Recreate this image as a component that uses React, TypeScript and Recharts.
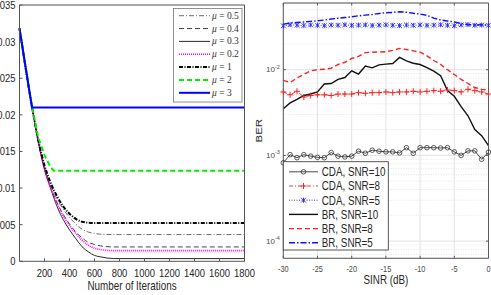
import { LineChart, Line, XAxis, YAxis, CartesianGrid, ReferenceLine } from 'recharts';

// left panel: cost vs iterations
const iters = [0, 100, 150, 200, 250, 300, 350, 400, 450, 500, 550, 600, 650, 700, 750, 800, 1800];
const mu05 = [0.0318, 0.0211, 0.0165, 0.0129, 0.0104, 0.0085, 0.0071, 0.006, 0.0051, 0.0044, 0.004, 0.0038, 0.0037, 0.00366, 0.00365, 0.00365, 0.00365];
const mu04 = [0.0318, 0.0211, 0.0164, 0.0127, 0.0101, 0.008, 0.0064, 0.0051, 0.004, 0.0032, 0.0026, 0.0023, 0.0021, 0.002, 0.00196, 0.00196, 0.00196];
const mu03 = [0.0318, 0.0211, 0.0163, 0.0125, 0.0099, 0.0075, 0.0057, 0.0043, 0.0031, 0.002, 0.0013, 0.0008, 0.0006, 0.00045, 0.00038, 0.00037, 0.00037];
const mu02 = [0.0318, 0.0211, 0.0164, 0.0126, 0.01, 0.0079, 0.0062, 0.0049, 0.0038, 0.0029, 0.0022, 0.0018, 0.0016, 0.0015, 0.00146, 0.00146, 0.00146];
const mu1 = [0.0318, 0.0211, 0.0166, 0.0131, 0.0107, 0.0089, 0.0075, 0.0065, 0.0058, 0.0054, 0.00527, 0.00523, 0.00523, 0.00523, 0.00523, 0.00523, 0.00523];
const itersMu2 = [0, 100, 150, 200, 250, 275, 1800];
const mu2 = [0.0318, 0.0211, 0.0169, 0.0145, 0.0128, 0.01238, 0.01238];
const itersMu3 = [0, 100, 1800];
const mu3 = [0.0318, 0.021, 0.021];

const iterTicks = [200, 400, 600, 800, 1000, 1200, 1400, 1600, 1800];
const costTicks = [0, 0.005, 0.01, 0.015, 0.02, 0.025, 0.03, 0.035];

// right panel: BER vs SINR
const sinr = [-30, -29, -28, -27, -26, -25, -24, -23, -22, -21, -20, -19, -18, -17, -16, -15, -14, -13, -12, -11, -10, -9, -8, -7, -6, -5, -4, -3, -2, -1, 0];
const cda10 = [0.00082, 0.00102, 0.00094, 0.00102, 0.00098, 0.00095, 0.00094, 0.00108, 0.00098, 0.00096, 0.00098, 0.00112, 0.00106, 0.00115, 0.00112, 0.0011, 0.0011, 0.00107, 0.00123, 0.00106, 0.00123, 0.00123, 0.00123, 0.00122, 0.00123, 0.0011, 0.001, 0.00113, 0.00113, 0.0009, 0.00109];
const cda8 = [0.0055, 0.0051, 0.0056, 0.0048, 0.005, 0.0051, 0.0051, 0.005, 0.0052, 0.0052, 0.0052, 0.0054, 0.0053, 0.0054, 0.0054, 0.0055, 0.0054, 0.0055, 0.0055, 0.0056, 0.0055, 0.0056, 0.0057, 0.0056, 0.0058, 0.0057, 0.0055, 0.0059, 0.0057, 0.0055, 0.0052];
const cda5 = [0.0325, 0.0335, 0.033, 0.0328, 0.0333, 0.033, 0.0327, 0.0332, 0.033, 0.0334, 0.0329, 0.0331, 0.0333, 0.0328, 0.0331, 0.0334, 0.033, 0.0327, 0.0332, 0.033, 0.0333, 0.0329, 0.0331, 0.0334, 0.033, 0.0326, 0.0333, 0.0336, 0.033, 0.0332, 0.033];
const br10 = [0.0035, 0.0041, 0.0045, 0.005, 0.0052, 0.0055, 0.0068, 0.0069, 0.0077, 0.0081, 0.0097, 0.0089, 0.011, 0.0105, 0.0114, 0.0116, 0.0118, 0.0139, 0.0127, 0.0119, 0.0115, 0.0106, 0.0096, 0.0085, 0.0057, 0.0049, 0.0037, 0.0029, 0.002, 0.0017, 0.0013];
const br8 = [0.0075, 0.0071, 0.008, 0.0088, 0.0097, 0.01, 0.0101, 0.0104, 0.0115, 0.0122, 0.0135, 0.0143, 0.0158, 0.016, 0.0161, 0.0162, 0.0168, 0.0177, 0.0172, 0.0166, 0.016, 0.0145, 0.0128, 0.0115, 0.01, 0.0088, 0.0077, 0.0069, 0.0062, 0.0059, 0.0058];
const br5 = [0.034, 0.035, 0.0355, 0.036, 0.0366, 0.0372, 0.038, 0.039, 0.0398, 0.0406, 0.0415, 0.0425, 0.0433, 0.044, 0.0452, 0.0462, 0.0466, 0.0474, 0.0468, 0.0455, 0.0446, 0.043, 0.04, 0.038, 0.037, 0.036, 0.0345, 0.0337, 0.0332, 0.0334, 0.0331];

const sinrTicks = [-30, -25, -20, -15, -10, -5, 0];
const berTicks = [1e-4, 1e-3, 1e-2];
const berMinor = [7e-5, 8e-5, 9e-5, 2e-4, 3e-4, 4e-4, 5e-4, 6e-4, 7e-4, 8e-4, 9e-4, 2e-3, 3e-3, 4e-3, 5e-3, 6e-3, 7e-3, 8e-3, 9e-3, 2e-2, 3e-2, 4e-2, 5e-2];

const SANS = "'Liberation Sans', Arial, Helvetica, sans-serif";
const SERIF = "'Liberation Serif', 'Times New Roman', serif";

const pairs = (xs: number[], ys: number[]) => xs.map((x, i) => ({ x, y: ys[i] }));

const costSeries = [
  { name: '0.5', data: pairs(iters, mu05), color: '#6a6a6a', width: 1, dash: '5 2 1 2', type: 'monotone' },
  { name: '0.4', data: pairs(iters, mu04), color: '#444', width: 1, dash: '5 3', type: 'monotone' },
  { name: '0.3', data: pairs(iters, mu03), color: '#111', width: 0.9, dash: undefined, type: 'monotone' },
  { name: '0.2', data: pairs(iters, mu02), color: '#ff00ff', width: 1.6, dash: '1 1', type: 'monotone' },
  { name: '1', data: pairs(iters, mu1), color: '#000', width: 2, dash: '4 1.5 1 1.5', type: 'monotone' },
  { name: '2', data: pairs(itersMu2, mu2), color: '#00ee00', width: 2, dash: '5 3', type: 'linear' },
  { name: '3', data: pairs(itersMu3, mu3), color: '#0000ff', width: 2, dash: undefined, type: 'linear' },
];

const berRows = sinr.map((s, i) => ({
  sinr: s, cda10: cda10[i], cda8: cda8[i], cda5: cda5[i], br10: br10[i], br8: br8[i], br5: br5[i],
}));

function STxt({ x, y, size, anchor = 'start', fill = '#262626', family = SANS, sx = 0.82, children }: any) {
  return (
    <text transform={`translate(${x},${y}) scale(${sx},1)`} textAnchor={anchor} fontSize={size} fontFamily={family} fill={fill}>
      {children}
    </text>
  );
}

// marker shapes
function Circle({ cx, cy, color }: any) {
  return <circle cx={cx} cy={cy} r={2.3} fill="none" stroke={color} strokeWidth={0.8} />;
}
function Plus({ cx, cy, color }: any) {
  return <path d={`M${cx - 3},${cy}H${cx + 3}M${cx},${cy - 3}V${cy + 3}`} stroke={color} strokeWidth={1} fill="none" />;
}
function Cross({ cx, cy, color }: any) {
  return <path d={`M${cx - 2.3},${cy - 2.3}L${cx + 2.3},${cy + 2.3}M${cx - 2.3},${cy + 2.3}L${cx + 2.3},${cy - 2.3}M${cx},${cy - 2.5}V${cy + 2.5}`} stroke={color} strokeWidth={0.9} fill="none" />;
}

const berSeries = [
  { key: 'cda10', label: 'CDA, SNR=10', color: '#333', width: 0.9, dash: undefined, marker: Circle },
  { key: 'cda8', label: 'CDA, SNR=8', color: '#ff2020', width: 0.9, dash: '4 2 1 2', marker: Plus },
  { key: 'cda5', label: 'CDA, SNR=5', color: '#2020ff', width: 0.9, dash: '1 1.5', marker: Cross },
  { key: 'br10', label: 'BR, SNR=10', color: '#111', width: 1.4, dash: undefined, marker: null },
  { key: 'br8', label: 'BR, SNR=8', color: '#ff2020', width: 1.4, dash: '5 3', marker: null },
  { key: 'br5', label: 'BR, SNR=5', color: '#1010ff', width: 1.4, dash: '6 2 1.5 2', marker: null },
];

function CostChart() {
  const axisColor = '#555';
  const common = { stroke: axisColor, axisLine: { stroke: axisColor, strokeWidth: 1 }, tickLine: false, tickSize: 0, tickMargin: 0, interval: 0 as const };
  return (
    <LineChart width={260} height={295} margin={{ top: 4, right: 14.5, left: 0, bottom: 0 }}>
      <XAxis xAxisId="b" type="number" dataKey="x" domain={[0, 1800]} ticks={iterTicks} height={33.7} {...common}
        tick={(p: any) => (
          <g>
            <line x1={p.x} x2={p.x} y1={p.y} y2={p.y - 3} stroke={axisColor} />
            <STxt x={p.x} y={p.y + 15.4} size={11.5} anchor="middle">{p.payload.value}</STxt>
          </g>
        )}
        label={{ content: (lp: any) => (
          <STxt x={lp.viewBox.x + lp.viewBox.width / 2} y={lp.viewBox.y + 28.5} size={12} anchor="middle">Number of Iterations</STxt>
        ) }}
      />
      <XAxis xAxisId="t" orientation="top" type="number" dataKey="x" domain={[0, 1800]} ticks={iterTicks} height={1} {...common}
        tick={(p: any) => <line x1={p.x} x2={p.x} y1={p.y} y2={p.y + 3} stroke={axisColor} />} />
      <YAxis yAxisId="l" type="number" domain={[0, 0.035]} ticks={costTicks} width={19.5} {...common}
        tick={(p: any) => (
          <g>
            <line x1={p.x} x2={p.x + 3} y1={p.y} y2={p.y} stroke={axisColor} />
            <STxt x={p.x - 4} y={p.y + 4} size={11.5} anchor="end">{String(p.payload.value)}</STxt>
          </g>
        )} />
      <YAxis yAxisId="r" orientation="right" type="number" domain={[0, 0.035]} ticks={costTicks} width={1} {...common}
        tick={(p: any) => <line x1={p.x} x2={p.x - 3} y1={p.y} y2={p.y} stroke={axisColor} />} />
      {costSeries.map(s => (
        <Line key={s.name} xAxisId="b" yAxisId="l" data={s.data} dataKey="y" type={s.type as any}
          stroke={s.color} strokeWidth={s.width} strokeDasharray={s.dash} dot={false} isAnimationActive={false} />
      ))}
    </LineChart>
  );
}

function BerChart() {
  const axisColor = '#5a5a5a';
  const common = { stroke: axisColor, axisLine: { stroke: axisColor, strokeWidth: 1 }, tickLine: false, tickSize: 0, tickMargin: 0, interval: 0 as const };
  return (
    <LineChart width={241} height={295} data={berRows} margin={{ top: 2, right: 1.5, left: 0, bottom: 0 }}>
      <CartesianGrid xAxisId="b" yAxisId="l" stroke="#e2e2e2" />
      {berMinor.map(v => (
        <ReferenceLine key={v} xAxisId="b" yAxisId="l" y={v} stroke="#e4e4e4" strokeDasharray="1 1.5" />
      ))}
      <XAxis xAxisId="b" type="number" dataKey="sinr" domain={[-30, 0]} ticks={sinrTicks} height={36.7} {...common}
        tick={(p: any) => (
          <g>
            <line x1={p.x} x2={p.x} y1={p.y} y2={p.y - 2.5} stroke={axisColor} />
            <STxt x={p.x} y={p.y + 13.4} size={9} anchor="middle" fill="#4a4a4a">{String(p.payload.value)}</STxt>
          </g>
        )}
        label={{ content: (lp: any) => (
          <STxt x={lp.viewBox.x + lp.viewBox.width / 2} y={lp.viewBox.y + 26} size={12} anchor="middle">SINR (dB)</STxt>
        ) }}
      />
      <XAxis xAxisId="t" orientation="top" type="number" dataKey="sinr" domain={[-30, 0]} ticks={sinrTicks} height={1} {...common}
        tick={(p: any) => <line x1={p.x} x2={p.x} y1={p.y} y2={p.y + 2.5} stroke={axisColor} />} />
      <YAxis yAxisId="l" type="number" scale="log" domain={[6.3e-5, 0.06]} allowDataOverflow ticks={berTicks} width={33.3} {...common}
        tick={(p: any) => (
          <g>
            <line x1={p.x} x2={p.x + 2.5} y1={p.y} y2={p.y} stroke={axisColor} />
            <text x={p.x - 3.5} y={p.y + 2.5} textAnchor="end" fontFamily={SANS} fill="#4a4a4a">
              <tspan fontSize={8}>10</tspan>
              <tspan fontSize={5.5} dy={-3.5}>{String(Math.round(Math.log10(p.payload.value)))}</tspan>
            </text>
          </g>
        )}
        label={{ content: (lp: any) => {
          const cx = lp.viewBox.x + 8.5;
          const cy = lp.viewBox.y + lp.viewBox.height / 2;
          return (
            <text transform={`translate(${cx},${cy}) rotate(-90) scale(1,0.82)`} textAnchor="middle" dy={4}
              fontSize={11.5} fontFamily={SANS} fill="#262626">BER</text>
          );
        } }}
      />
      <YAxis yAxisId="r" orientation="right" type="number" scale="log" domain={[6.3e-5, 0.06]} allowDataOverflow ticks={berTicks} width={1} {...common}
        tick={(p: any) => <line x1={p.x} x2={p.x - 2.5} y1={p.y} y2={p.y} stroke={axisColor} />} />
      {berSeries.map(s => {
        const M = s.marker;
        return (
          <Line key={s.key} xAxisId="b" yAxisId="l" dataKey={s.key} type="linear" stroke={s.color}
            strokeWidth={s.width} strokeDasharray={s.dash} isAnimationActive={false}
            dot={M ? (p: any) => <M key={p.index} cx={p.cx} cy={p.cy} color={s.color} /> : false} />
        );
      })}
    </LineChart>
  );
}

function CostLegend() {
  const top = 8.5, left = 173.5, w = 68.5, h = 93.5;
  return (
    <svg width={491} height={295} style={{ position: 'absolute', left: 0, top: 0 }}>
      <rect x={left} y={top} width={w} height={h} fill="#fff" stroke="#777" strokeWidth={0.8} />
      {costSeries.map((s, i) => {
        const y = 15.7 + i * 12.85;
        return (
          <g key={s.name}>
            <line x1={179} x2={210} y1={y} y2={y} stroke={s.color} strokeWidth={s.width} strokeDasharray={s.dash} />
            <text x={212} y={y + 3} fontSize={9.5} fontFamily={SERIF} fill="#333">
              <tspan fontStyle="italic">μ</tspan> = {s.name}
            </text>
          </g>
        );
      })}
    </svg>
  );
}

function BerLegend() {
  return (
    <svg width={491} height={295} style={{ position: 'absolute', left: 0, top: 0 }}>
      <rect x={283.3} y={161.7} width={105} height={88.3} fill="#fff" stroke="#444" strokeWidth={0.9} />
      {berSeries.map((s, i) => {
        const y = 171.8 + i * 14.2;
        const M = s.marker;
        return (
          <g key={s.key}>
            <line x1={289} x2={318} y1={y} y2={y} stroke={s.color} strokeWidth={s.width} strokeDasharray={s.dash} />
            {M ? <M cx={303.5} cy={y} color={s.color} /> : null}
            <STxt x={321.7} y={y + 4.3} size={12}>{s.label}</STxt>
          </g>
        );
      })}
    </svg>
  );
}

export default function App() {
  return (
    <div style={{ position: 'absolute', left: 0, top: 0, width: 491, height: 295, overflow: 'hidden', background: '#fff' }}>
      <div style={{ position: 'absolute', left: 0, top: 0 }}>
        <CostChart />
      </div>
      <div style={{ position: 'absolute', left: 250, top: 0 }}>
        <BerChart />
      </div>
      <CostLegend />
      <BerLegend />
    </div>
  );
}
